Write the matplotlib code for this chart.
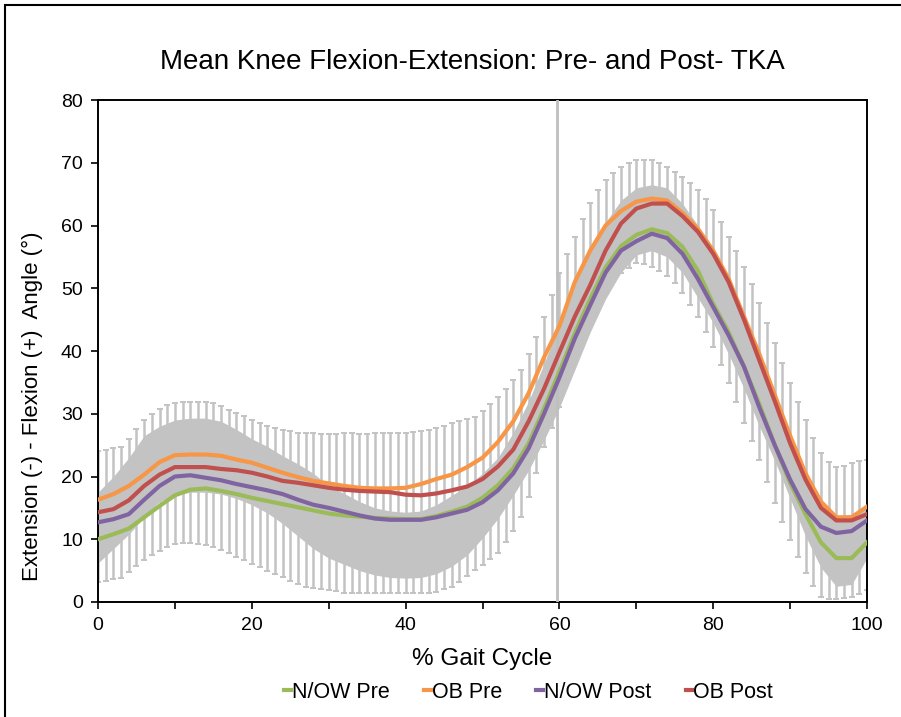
import matplotlib
matplotlib.use("Agg")
import matplotlib.pyplot as plt
import numpy as np
from matplotlib.patches import Rectangle

plt.rcParams['font.family'] = ['Liberation Sans', 'DejaVu Sans']

# % gait cycle, every 2 %
gait = list(range(0, 101, 2))

nw_pre = [10, 10.8, 11.7, 13.5, 15.3, 17, 17.9, 18.1, 17.7, 17.2,
          16.6, 16.1, 15.6, 15.1, 14.6, 14.1, 13.8, 13.6, 13.4, 13.3,
          13.2, 13.2, 13.7, 14.4, 15.2, 16.6, 18.6, 21.3, 25.3, 30.8,
          36.7, 42.8, 48.3, 53.3, 56.7, 58.5, 59.4, 58.8, 56.6, 52.8,
          47.5, 43, 37.5, 31.5, 25, 19, 14, 9.5, 7, 7, 9.5]
ob_pre = [16.3, 17.2, 18.5, 20.3, 22.3, 23.4, 23.5, 23.5, 23.3, 22.7,
          22.2, 21.4, 20.6, 19.9, 19.3, 18.9, 18.5, 18.2, 18.1, 18.1,
          18.2, 18.8, 19.6, 20.3, 21.5, 23, 25.5, 28.8, 33.3, 39,
          44, 51, 56, 60, 62.3, 63.8, 64.3, 64, 62, 59.5,
          56, 51.5, 45.5, 39.5, 33, 26.5, 20.5, 16, 13.5, 13.5, 15.2]
nw_post = [12.7, 13.2, 14, 16.3, 18.5, 20, 20.2, 19.8, 19.4, 18.8,
           18.3, 17.8, 17.2, 16.3, 15.5, 15, 14.4, 13.8, 13.3, 13.1,
           13.1, 13.1, 13.5, 14.1, 14.7, 15.9, 17.8, 20.5, 24.5, 30,
           35.8, 42, 47.3, 52.5, 56, 57.5, 58.7, 58, 55.5, 51.5,
           47, 42.5, 37.5, 31, 25, 19.5, 14.8, 12, 11, 11.3, 13]
ob_post = [14.3, 14.8, 16.2, 18.5, 20.3, 21.5, 21.5, 21.5, 21.2, 21,
           20.6, 20, 19.3, 19, 18.6, 18.2, 17.9, 17.7, 17.6, 17.5,
           17.1, 17, 17.3, 17.8, 18.4, 19.6, 21.6, 24.3, 28.8, 34,
           39.8, 45.5, 50.5, 56, 60.3, 62.7, 63.5, 63.5, 61.5, 59,
           55.5, 51, 45, 38.5, 32, 25.3, 19.5, 15, 13, 13, 14]

# grey shaded band
band_hi = [17.5, 20, 23, 26.5, 28, 29, 29.3, 29.3, 28.8, 27.5,
           26, 24.8, 23.3, 22, 20.5, 18.5, 17.3, 16, 15, 14.5,
           14.3, 14.5, 15.5, 17, 18.5, 20.5, 23, 27, 32, 38,
           44.5, 51, 56.5, 60.5, 64, 66, 66.5, 66, 63.5, 60,
           55.5, 51, 45.5, 40, 33.5, 27, 21, 16, 13.5, 14, 15.5]
band_lo = [6.2, 8.5, 10.8, 13.5, 16, 17, 17.5, 17.5, 17.2, 16.5,
           15.5, 14.2, 12.5, 10.5, 8.5, 7, 6, 5, 4.3, 3.9,
           3.8, 3.9, 4.5, 5.7, 7.5, 10.2, 13.3, 17, 21, 25.8,
           31, 37, 43, 48.3, 52.5, 55.3, 56, 55, 52.5, 48.5,
           44.5, 39.5, 34, 28, 22.5, 16.5, 10.5, 5.5, 2.5, 2.8, 7]

# capped error bars, every 1 %
gait_err = list(range(0, 101))
err_hi = [24, 24.2, 24.5, 24.7, 26, 27.5, 29, 30, 30.8, 31.4,
          31.7, 31.9, 31.9, 31.9, 31.8, 31.7, 31.2, 30.6, 30.1, 29.6,
          29, 28.5, 28.1, 27.7, 27.4, 27.2, 27, 26.9, 26.9, 26.8,
          26.8, 26.8, 26.9, 26.9, 26.8, 26.8, 26.9, 26.9, 26.9, 27,
          27, 27.1, 27.2, 27.4, 27.7, 28.1, 28.5, 28.8, 29.1, 29.5,
          30.4, 31.5, 32.7, 34, 35.4, 37, 39.5, 42.3, 45.4, 49,
          52.4, 55.4, 58.2, 61, 63.6, 65.6, 67.3, 68.4, 69.3, 70,
          70.4, 70.5, 70.4, 70, 69.3, 68.6, 67.7, 66.8, 65.7, 64.2,
          62.5, 60.5, 58.2, 55.9, 53.4, 50.6, 47.6, 44.5, 41.3, 38.1,
          34.9, 31.9, 29, 26.2, 23.7, 22.3, 21.5, 21.6, 22.1, 22.4, 22.6]
err_lo = [3.2, 3.4, 3.6, 3.8, 4.8, 5.8, 6.7, 7.5, 8.2, 8.8,
          9.2, 9.4, 9.4, 9.3, 9.1, 8.8, 8.3, 7.8, 7.2, 6.7,
          6.1, 5.6, 5, 4.5, 4, 3.4, 2.9, 2.4, 2.2, 2,
          1.9, 1.7, 1.5, 1.4, 1.4, 1.4, 1.4, 1.4, 1.4, 1.4,
          1.4, 1.4, 1.4, 1.4, 1.6, 2, 2.4, 3.2, 4.1, 5.1,
          5.9, 6.8, 7.8, 9.5, 11.3, 13.5, 16.8, 20.5, 24.7, 27.8,
          31, 35.8, 40.2, 44, 47, 48.8, 50.2, 51.4, 52.4, 53.3,
          54, 53.9, 53.4, 52.8, 52, 50.8, 49.2, 47.4, 45.4, 43.1,
          40.6, 37.8, 34.9, 31.8, 28.5, 25.6, 22.6, 19.2, 15.8, 12.8,
          9.9, 7.1, 4.6, 2.5, 0.8, 0.5, 0.5, 0.6, 0.8, 1.3, 1.9]

toe_off = 59.7

fig = plt.figure(figsize=(9.01, 7.17), dpi=100)
ax = fig.add_axes([0.1088, 0.1604, 0.8535, 0.7001])

grey = '#c3c3c3'
ax.fill_between(gait, band_lo, band_hi, color=grey, lw=0, zorder=1)

err_hi = np.array(err_hi)
err_lo = np.array(err_lo)
mid = (err_hi + err_lo) / 2
ax.errorbar(gait_err, mid, yerr=[mid - err_lo, err_hi - mid], fmt='none',
            ecolor=grey, elinewidth=1.8, capsize=2, capthick=1.4, zorder=2)

ax.axvline(toe_off, color='#bfbfbf', lw=2, zorder=3)

ax.plot(gait, nw_pre, color='#9bbb59', lw=3, label='N/OW Pre', zorder=4)
ax.plot(gait, ob_pre, color='#f79646', lw=3, label='OB Pre', zorder=4)
ax.plot(gait, nw_post, color='#8064a2', lw=3, label='N/OW Post', zorder=4)
ax.plot(gait, ob_post, color='#c0504d', lw=3, label='OB Post', zorder=4)

ax.set_xlim(0, 100)
ax.set_ylim(0, 80)
ax.set_xticks(range(0, 101, 20))
ax.set_xticks(range(0, 101, 10), minor=True)
ax.set_yticks(range(0, 81, 10))
ax.tick_params(axis='both', which='both', direction='out', length=5, width=1.2,
               labelsize=14, pad=6)
for s in ax.spines.values():
    s.set_linewidth(1.4)

ax.set_xlabel('% Gait Cycle', fontsize=17.5, labelpad=10)
ax.set_ylabel('Extension (-) - Flexion (+)  Angle (°)', fontsize=16)
ax.yaxis.set_label_coords(-0.072, 0.39)
ax.set_title('Mean Knee Flexion-Extension: Pre- and Post- TKA', fontsize=20,
             pad=22, x=0.487)

ax.legend(loc='center', bbox_to_anchor=(0.56, -0.18), ncol=4, frameon=False,
          fontsize=15.5, handlelength=0.3, handletextpad=0.05, columnspacing=1.6)

fig.patches.append(Rectangle((5 / 901, -0.05), 1.1, 1 - 5 / 717 + 0.05,
                             transform=fig.transFigure, fill=False,
                             edgecolor='black', lw=1.5, zorder=10))

fig.savefig('out.png', dpi=100)
